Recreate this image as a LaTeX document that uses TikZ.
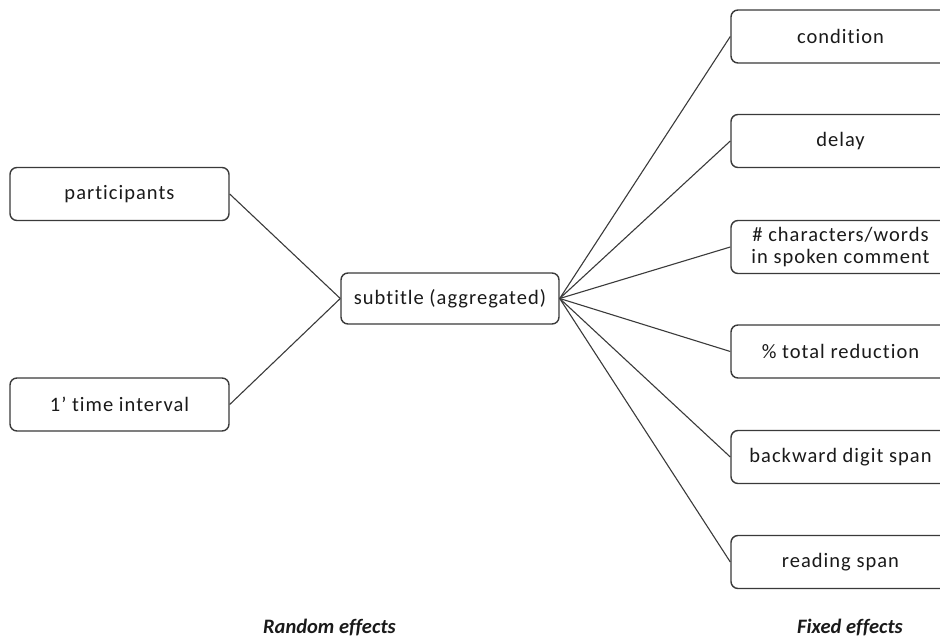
\documentclass[tikz,border=0pt]{standalone}
\usepackage{fontspec}
\setmainfont[Ligatures=NoCommon]{Carlito}
\newfontfamily\boxfont[LetterSpace=5,Ligatures=NoCommon]{Carlito}
\definecolor{edge}{HTML}{3A3A3A}
\definecolor{ink}{HTML}{1A1A1A}
\begin{document}
\begin{tikzpicture}[x=1pt,y=-1pt,
  box/.style={draw=edge,line width=1.4pt,rounded corners=7pt,fill=white,
    minimum width=219pt,minimum height=53pt,inner sep=0pt,align=center,
    font=\boxfont\fontsize{20.5}{23}\selectfont,text=ink},
  conn/.style={draw=edge,line width=1.1pt},
  lbl/.style={font=\fontsize{20.5}{24}\selectfont\bfseries\itshape,text=ink,inner sep=0pt}]
\useasboundingbox (0,0) rectangle (940,639);
\node[box] (part) at (119.5,194) {participants};
\node[box] (time) at (119.5,404.5) {1’ time interval};
\node[box,minimum width=218pt,minimum height=51pt] (sub) at (450,298.5) {subtitle (aggregated)};
\node[box] (cond) at (840.5,36.5) {condition};
\node[box] (delay) at (840.5,141) {delay};
\node[box,font=\boxfont\fontsize{20.5}{22}\selectfont] (chars) at (840.5,247) {\# characters/words\\in spoken comment};
\node[box] (red) at (840.5,351.5) {\% total reduction};
\node[box] (back) at (840.5,457) {backward digit span};
\node[box] (read) at (840.5,562) {reading span};
\node[lbl,anchor=west] (rand) at (263,627) {Random effects};
\node[lbl,anchor=west] (fixed) at (797,627) {Fixed effects};
\draw[conn] (part.east) -- (sub.west);
\draw[conn] (time.east) -- (sub.west);
\foreach \t in {cond,delay,chars,red,back,read}
  \draw[conn] (sub.east) -- (\t.west);
\end{tikzpicture}
\end{document}
